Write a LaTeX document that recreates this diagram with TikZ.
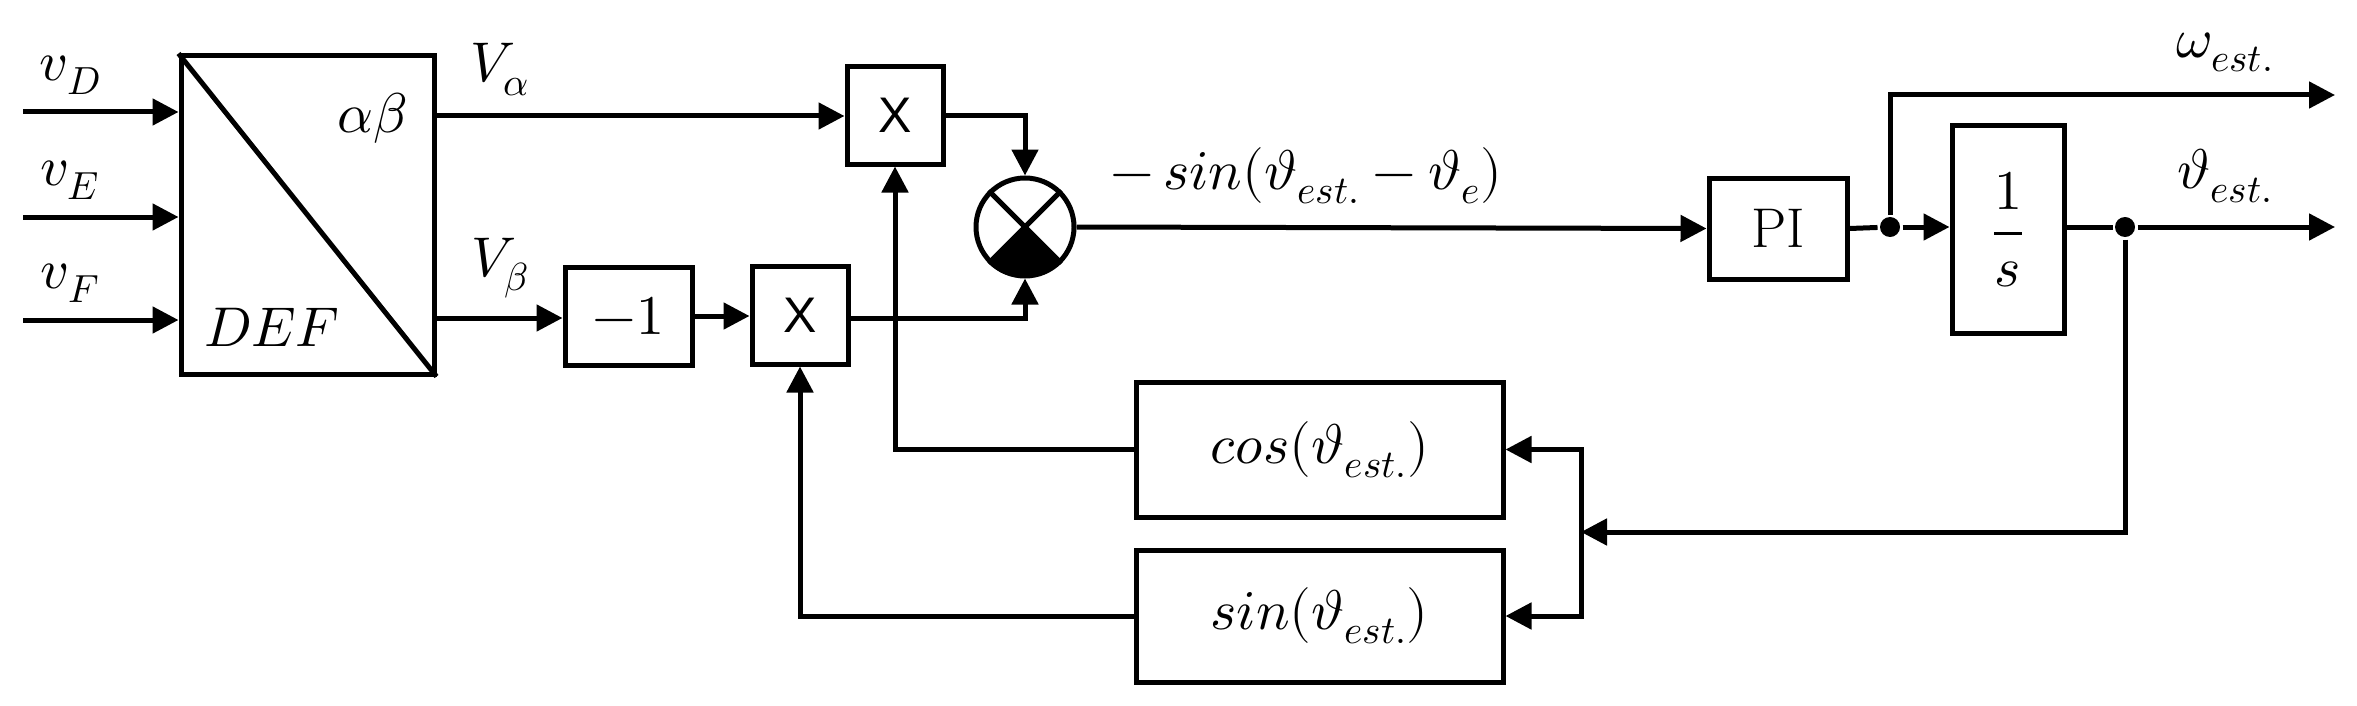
\documentclass[tikz,border=0pt]{standalone}
\usepackage{unicode-math}
\setmathfont{Latin Modern Math}
\newfontfamily\xsans{Liberation Sans}
\usetikzlibrary{arrows.meta,calc}
\begin{document}
\begin{tikzpicture}[x=1pt,y=-1pt,line width=5pt,
  box/.style={draw,inner sep=0pt,font=\fontsize{56}{62}\selectfont},
  arr/.style={-{Triangle[length=26pt,width=26pt]}},
  lbl/.style={font=\fontsize{56}{62}\selectfont,inner sep=0pt},
  dot/.style={circle,fill,inner sep=0pt,minimum size=20pt}]
\useasboundingbox (0,0) rectangle (2357,706);
\node[box,minimum width=253,minimum height=318] (def) at (307.5,215) {};
\draw[line width=5pt] (def.north west) -- (def.south east);
\node[lbl] at (372,118) {$\alpha\beta$};
\node[lbl] at (272,327) {$DEF$};
\node[box,minimum width=96,minimum height=97,font=\fontsize{50}{60}\selectfont\xsans] (x1) at (895,115.5) {X};
\node[box,minimum width=127,minimum height=98] (neg) at (628.5,316) {$-1$};
\node[box,minimum width=96,minimum height=98,font=\fontsize{50}{60}\selectfont\xsans] (x2) at (800,315) {X};
\node[box,minimum width=138,minimum height=101] (pi) at (1778,228.5) {PI};
\node[box,minimum width=112,minimum height=207] (int) at (2008,229.5) {$\dfrac{1}{s}$};
\node[box,minimum width=367,minimum height=135] (cos) at (1319.5,449.5) {$cos(\vartheta_{est.})$};
\node[box,minimum width=367,minimum height=132] (sin) at (1319.5,616) {$sin(\vartheta_{est.})$};
\node[circle,draw,minimum size=98,inner sep=0pt] (sum) at (1025,227) {};
\fill (sum.center) -- (sum.south west) arc[start angle=135,end angle=45,radius=49] -- cycle;
\draw (sum.north west) -- (sum.south east) (sum.north east) -- (sum.south west);
% inputs
\foreach \y/\n in {112/D,217/E,320/F}{
  \coordinate (i\n) at (23,\y);
  \draw[arr] (i\n) -- (i\n -| def.west);
}
\node[lbl] at (70,75) {$v_D$};
\node[lbl] at (70,180) {$v_E$};
\node[lbl] at (70,283) {$v_F$};
\coordinate (va) at (def.east |- 0,116);
\coordinate (vb) at (def.east |- 0,318);
\draw[arr] (va) -- (va -| x1.west);
\node[lbl] at (500,70) {$V_\alpha$};
\draw[arr] (vb) -- (vb -| neg.west);
\node[lbl] at (500,268) {$V_\beta$};
\draw[arr] (neg.east) -- (neg.east -| x2.west);
\draw[arr] (x1.east |- 0,116) -| (sum.north);
\draw[arr] (x2.east |- 0,318) -| (sum.south);
\draw[arr] (sum.east) -- (pi.west);
\node[lbl,anchor=west] at (1108,176) {$-\,sin(\vartheta_{est.}-\vartheta_e)$};
\node[dot] (d1) at (1890,227) {};
\draw (pi.east) -- (d1);
\draw[arr] (d1) -- (d1 -| int.west);
\coordinate (wo) at (2335,95);
\draw[arr] (d1) |- (wo);
\node[lbl] at (2225,52) {$\omega_{est.}$};
\node[dot] (d2) at (2125,227) {};
\coordinate (to) at (2335,227);
\draw (int.east |- d2) -- (d2);
\draw[arr] (d2) -- (to);
\node[lbl] at (2225,176) {$\vartheta_{est.}$};
\coordinate (bus) at (1581,532);
\draw[arr] (d2) |- (bus);
\draw[arr] (bus) |- (cos.east);
\draw[arr] (bus) |- (sin.east);
\draw[arr] (cos.west) -| (x1.south);
\draw[arr] (sin.west) -| (x2.south);
\end{tikzpicture}
\end{document}
